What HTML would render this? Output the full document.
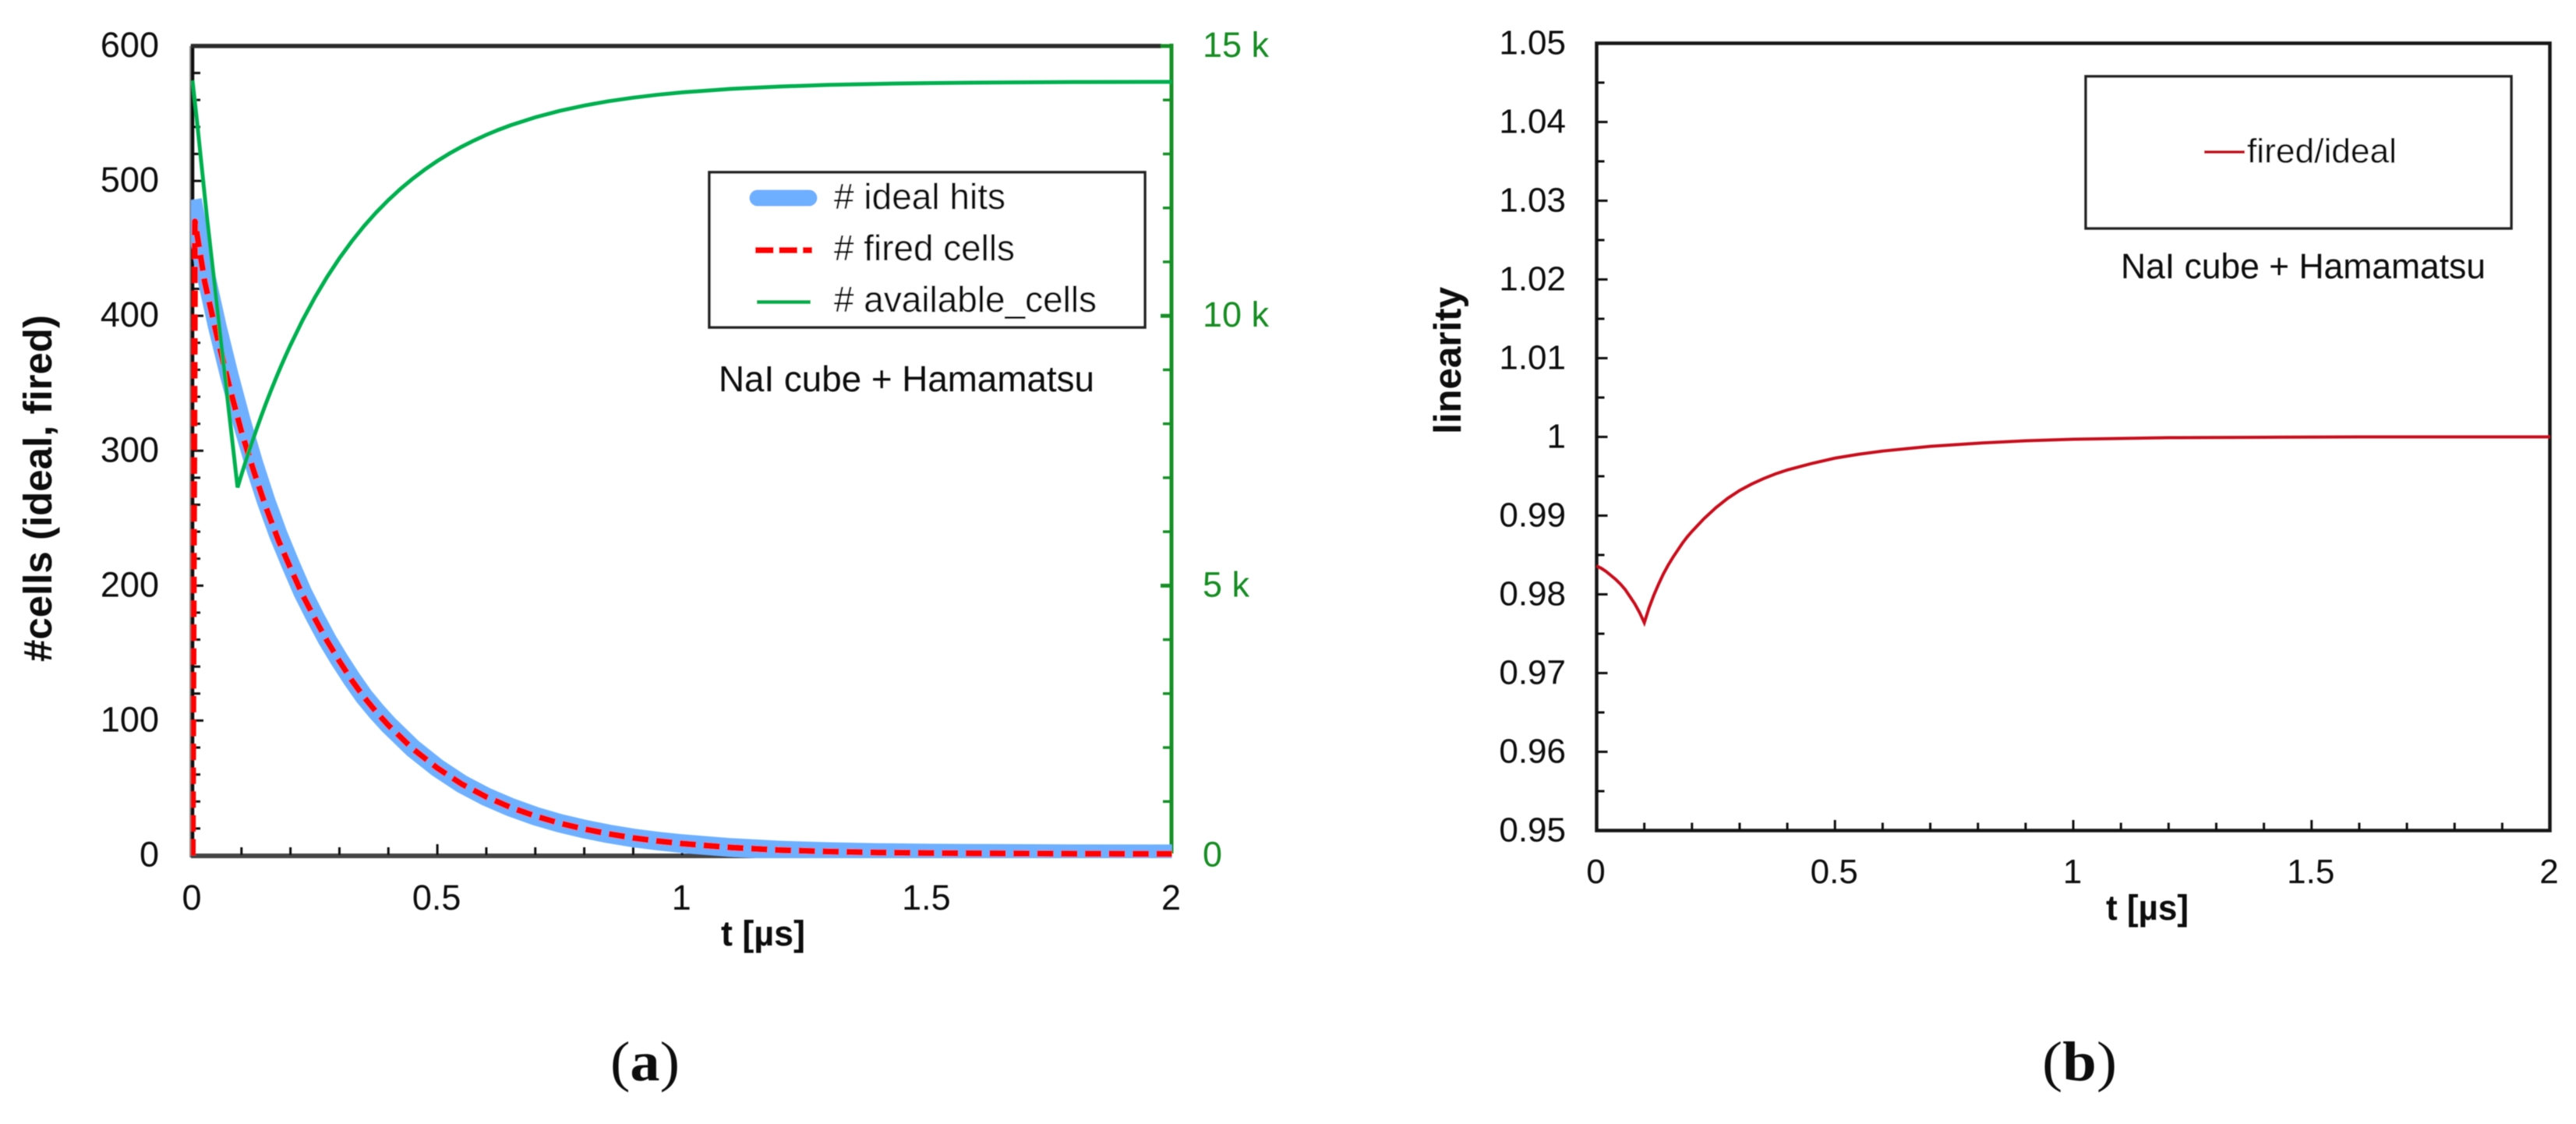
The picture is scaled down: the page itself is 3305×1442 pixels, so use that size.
<!DOCTYPE html>
<html lang="en">
<head>
<meta charset="utf-8">
<title>SiPM cell response and linearity</title>
<style>
html,body{margin:0;padding:0;background:#fff;}
svg{display:block;}
text{font-family:"Liberation Sans",Arial,sans-serif;fill:#0a0a0a;}
.bold{font-weight:700;}
.cap{font-family:"Liberation Serif","Times New Roman",serif;}
</style>
</head>
<body>
<svg id="figure" xmlns="http://www.w3.org/2000/svg" width="3305" height="1442" viewBox="0 0 3305 1442">
  <defs>
    <filter id="soft" x="-2%" y="-2%" width="104%" height="104%"><feGaussianBlur stdDeviation="0.6"/></filter>
    <clipPath id="clipA"><rect x="245" y="0" width="1262" height="1101"/></clipPath>
  </defs>
  <rect width="3305" height="1442" fill="#ffffff"/>
  <g filter="url(#soft)">
    <g id="panelA">
      <g id="axesA"></g>
      <g id="marksA"></g>
      <g>
        <rect x="910" y="221" width="559" height="199" fill="#ffffff" stroke="#222222" stroke-width="3.5"/>
        <line x1="972" y1="254" x2="1038" y2="254" stroke="#6EB0FF" stroke-width="21" stroke-linecap="round"/>
        <line x1="969" y1="321" x2="1042" y2="321" stroke="#FF0000" stroke-width="8" stroke-dasharray="23.5 7"/>
        <line x1="971" y1="387.5" x2="1040" y2="387.5" stroke="#00B050" stroke-width="5"/>
        <text x="1070" y="268" font-size="46" textLength="220" lengthAdjust="spacingAndGlyphs"># ideal hits</text>
        <text x="1070" y="334" font-size="46" textLength="232" lengthAdjust="spacingAndGlyphs"># fired cells</text>
        <text x="1070" y="400" font-size="46" textLength="337" lengthAdjust="spacingAndGlyphs"># available_cells</text>
      </g>
      <text x="922" y="502" font-size="46" textLength="482" lengthAdjust="spacingAndGlyphs">NaI cube + Hamamatsu</text>
      <text class="bold" x="925" y="1213" font-size="45" textLength="108" lengthAdjust="spacingAndGlyphs">t [µs]</text>
      <text class="bold" transform="translate(66,849) rotate(-90)" font-size="51" textLength="445" lengthAdjust="spacingAndGlyphs">#cells (ideal, fired)</text>
      <text class="cap" x="783" y="1386" font-size="72" textLength="89" lengthAdjust="spacingAndGlyphs">(<tspan font-weight="700">a</tspan>)</text>
    </g>
    <g id="panelB">
      <g id="axesB"></g>
      <g id="marksB"></g>
      <g>
        <rect x="2676" y="98" width="546" height="195" fill="#ffffff" stroke="#222222" stroke-width="3.5"/>
        <line x1="2828" y1="195" x2="2880" y2="195" stroke="#C8101A" stroke-width="4"/>
        <text x="2883" y="208.5" font-size="44" textLength="192" lengthAdjust="spacingAndGlyphs">fired/ideal</text>
      </g>
      <text x="2721" y="357" font-size="45" textLength="468" lengthAdjust="spacingAndGlyphs">NaI cube + Hamamatsu</text>
      <text class="bold" x="2702" y="1180" font-size="45" textLength="106" lengthAdjust="spacingAndGlyphs">t [µs]</text>
      <text class="bold" transform="translate(1874,557) rotate(-90)" font-size="49" textLength="189" lengthAdjust="spacingAndGlyphs">linearity</text>
      <text class="cap" x="2620" y="1386" font-size="72" textLength="96" lengthAdjust="spacingAndGlyphs">(<tspan font-weight="700">b</tspan>)</text>
    </g>
  </g>
</svg>
<script>
// ---- Panel (a) data ----
const timeTicks = [0, 0.5, 1, 1.5, 2];
const timeTickLabels = ['0', '0.5', '1', '1.5', '2'];
const cellsTicks = [0, 100, 200, 300, 400, 500, 600];
const cellsTickLabels = ['0', '100', '200', '300', '400', '500', '600'];
const availTicks = [0, 5000, 10000, 15000];
const availTickLabels = ['0', '5 k', '10 k', '15 k'];

const idealT = [0, 0.025, 0.05, 0.075, 0.1, 0.125, 0.15, 0.175, 0.2, 0.225, 0.25, 0.275, 0.3, 0.325, 0.35, 0.375, 0.4, 0.45, 0.5, 0.55, 0.6, 0.65, 0.7, 0.75, 0.8, 0.85, 0.9, 0.95, 1, 1.1, 1.2, 1.3, 1.4, 1.5, 1.6, 1.8, 2];
const idealHits = [486, 434, 393, 356, 322, 291, 263, 238, 216, 195, 177, 160, 145, 131, 118, 107, 97, 79.4, 65, 53, 43.5, 35.7, 29.2, 23.9, 19.6, 16, 13, 10.7, 8.8, 5.9, 4, 2.9, 2.2, 1.8, 1.6, 1.3, 1.2];

const firedT = [0, 0.005, 0.025, 0.05, 0.075, 0.1, 0.125, 0.15, 0.175, 0.2, 0.225, 0.25, 0.275, 0.3, 0.325, 0.35, 0.375, 0.4, 0.45, 0.5, 0.55, 0.6, 0.65, 0.7, 0.75, 0.8, 0.85, 0.9, 0.95, 1, 1.1, 1.2, 1.3, 1.4, 1.5, 1.6, 1.8, 2];
const firedCells = [0, 470, 425, 385, 348, 314, 285, 258, 234, 213, 193, 175.5, 159, 144, 130, 117.5, 106.5, 96.5, 79, 64.8, 52.9, 43.4, 35.6, 29.2, 23.9, 19.6, 16, 13, 10.7, 8.8, 5.9, 4, 2.9, 2.2, 1.8, 1.6, 1.3, 1.2];

const availT = [0, 0.0095, 0.0286, 0.0658, 0.092, 0.1, 0.11, 0.12, 0.13, 0.14, 0.15, 0.16, 0.17, 0.18, 0.19, 0.2, 0.225, 0.25, 0.275, 0.3, 0.325, 0.35, 0.375, 0.4, 0.425, 0.45, 0.475, 0.5, 0.525, 0.55, 0.575, 0.6, 0.625, 0.65, 0.7, 0.75, 0.8, 0.85, 0.9, 0.95, 1, 1.1, 1.2, 1.3, 1.4, 1.5, 1.6, 1.8, 2];
const availCells = [14360, 13580, 11900, 8916, 6820, 7057, 7343, 7617, 7880, 8134, 8377, 8611, 8835, 9051, 9259, 9458, 9923, 10343, 10724, 11067, 11379, 11661, 11916, 12146, 12355, 12544, 12715, 12870, 13010, 13136, 13250, 13354, 13448, 13533, 13679, 13799, 13897, 13978, 14043, 14097, 14141, 14206, 14250, 14280, 14299, 14313, 14322, 14332, 14336];

// ---- Panel (b) data ----
const linTicks = [0.95, 0.96, 0.97, 0.98, 0.99, 1, 1.01, 1.02, 1.03, 1.04, 1.05];
const linTickLabels = ['0.95', '0.96', '0.97', '0.98', '0.99', '1', '1.01', '1.02', '1.03', '1.04', '1.05'];
const linT = [0, 0.01, 0.02, 0.03, 0.04, 0.05, 0.06, 0.07, 0.08, 0.09, 0.1, 0.11, 0.12, 0.13, 0.14, 0.15, 0.16, 0.17, 0.18, 0.19, 0.2, 0.225, 0.25, 0.275, 0.3, 0.325, 0.35, 0.375, 0.4, 0.45, 0.5, 0.55, 0.6, 0.65, 0.7, 0.8, 0.9, 1, 1.2, 1.4, 1.6, 2];
const linearity = [0.9836, 0.9833, 0.9829, 0.9824, 0.9819, 0.9813, 0.9806, 0.9797, 0.9788, 0.9777, 0.9764, 0.9783, 0.9799, 0.9813, 0.9826, 0.9837, 0.9847, 0.9856, 0.9865, 0.9873, 0.988, 0.9896, 0.991, 0.9922, 0.9932, 0.994, 0.9947, 0.9953, 0.9958, 0.9966, 0.9973, 0.9978, 0.9982, 0.9985, 0.9988, 0.9992, 0.9995, 0.9997, 0.9999, 0.99995, 1, 1];

// ---- Axis functions ----
const NS = 'http://www.w3.org/2000/svg';
function xA(t) { return 247 + t * 628.25; }
function yL(v) { return 1097.5 - v * 1.7308; }
function yR(v) { return 1097.5 - v * 0.06923; }
function xB(t) { return 2048.5 + t * 611.5; }
function yB(v) { return 1065.5 - (v - 0.95) * 10100; }

function shape(parent, tag, attrs) {
  const el = document.createElementNS(NS, tag);
  for (const k in attrs) el.setAttribute(k, attrs[k]);
  parent.appendChild(el);
  return el;
}
function pointsOf(ts, vs, fx, fy) {
  return ts.map(function (t, i) { return fx(t).toFixed(2) + ',' + fy(vs[i]).toFixed(2); }).join(' ');
}

const axesA = document.getElementById('axesA');
const marksA = document.getElementById('marksA');
const axesB = document.getElementById('axesB');
const marksB = document.getElementById('marksB');
let el;

// ---- Panel (a) frame ----
el = shape(axesA, 'line', {x1: 244, y1: 59, x2: 244, y2: 1100, stroke: '#999999', 'stroke-width': 2});


el = shape(axesA, 'line', {x1: 247, y1: 57, x2: 247, y2: 1100, stroke: '#0c0c0c', 'stroke-width': 4.5});


el = shape(axesA, 'line', {x1: 245, y1: 59, x2: 1490, y2: 59, stroke: '#2a2a2a', 'stroke-width': 5.5});


el = shape(axesA, 'line', {x1: 245, y1: 1098, x2: 1503, y2: 1098, stroke: '#444444', 'stroke-width': 6});


el = shape(axesA, 'line', {x1: 1503, y1: 56, x2: 1503, y2: 1095, stroke: '#169026', 'stroke-width': 5});



// Panel (a) x ticks
for (let i = 1; i < 20; i++) {
  const t = i / 10;
  const major = i % 5 === 0;
  el = shape(axesA, 'line', {x1: xA(t), y1: 1097, x2: xA(t), y2: major ? 1083 : 1087, stroke: '#111111', 'stroke-width': 3});
  
  
}
timeTicks.forEach(function (t, i) {
  const lab = shape(axesA, 'text', {x: xA(t) - 1, y: 1167, 'font-size': 45, 'text-anchor': 'middle'});
  lab.textContent = timeTickLabels[i];
  
  
});

// Panel (a) left y ticks
for (let i = 1; i < 30; i++) {
  const v = i * 20;
  const major = i % 5 === 0;
  el = shape(axesA, 'line', {x1: 247, y1: yL(v), x2: major ? 261 : 257, y2: yL(v), stroke: '#111111', 'stroke-width': 3});
  
  
}
cellsTicks.forEach(function (v, i) {
  const lab = shape(axesA, 'text', {x: 204, y: yL(v) + 14, 'font-size': 45, 'text-anchor': 'end'});
  lab.textContent = cellsTickLabels[i];
  
  
});

// Panel (a) right y ticks
for (let i = 1; i <= 15; i++) {
  const v = i * 1000;
  const major = i % 5 === 0;
  el = shape(axesA, 'line', {x1: 1503, y1: yR(v), x2: major ? 1489 : 1492, y2: yR(v), stroke: '#169026', 'stroke-width': major ? 5 : 3.5});
  
  
}
availTicks.forEach(function (v, i) {
  const lab = shape(axesA, 'text', {x: 1543, y: yR(v) + 14, 'font-size': 45, style: 'fill:#128c22'});
  lab.textContent = availTickLabels[i];
  
  
});

// Panel (a) series
el = shape(marksA, 'polyline', {points: pointsOf(idealT, idealHits, xA, yL), fill: 'none', stroke: '#6EB0FF', 'stroke-width': 24, 'stroke-linejoin': 'round', 'clip-path': 'url(#clipA)'});


el = shape(marksA, 'polyline', {points: pointsOf(firedT, firedCells, xA, yL), fill: 'none', stroke: '#FF0000', 'stroke-width': 8, 'stroke-dasharray': '21 9.6', 'stroke-linejoin': 'round', 'clip-path': 'url(#clipA)'});


el = shape(marksA, 'polyline', {points: pointsOf(availT, availCells, xA, yR), fill: 'none', stroke: '#00B050', 'stroke-width': 5, 'stroke-linejoin': 'miter', 'clip-path': 'url(#clipA)'});



// ---- Panel (b) frame ----
el = shape(axesB, 'rect', {x: xB(0), y: 55.5, width: xB(2) - xB(0), height: yB(0.95) - 55.5, fill: 'none', stroke: '#161616', 'stroke-width': 4.5});



for (let i = 1; i < 20; i++) {
  const t = i / 10;
  const major = i % 5 === 0;
  el = shape(axesB, 'line', {x1: xB(t), y1: 1065, x2: xB(t), y2: major ? 1052 : 1055.5, stroke: '#111111', 'stroke-width': 3});
  
  
}
timeTicks.forEach(function (t, i) {
  const lab = shape(axesB, 'text', {x: xB(t) - 1, y: 1133, 'font-size': 44, 'text-anchor': 'middle'});
  lab.textContent = timeTickLabels[i];
  
  
});
for (let i = 1; i < 20; i++) {
  const v = 0.95 + i * 0.005;
  const major = i % 2 === 0;
  el = shape(axesB, 'line', {x1: xB(0), y1: yB(v), x2: xB(0) + (major ? 14 : 10), y2: yB(v), stroke: '#111111', 'stroke-width': 3});
  
  
}
linTicks.forEach(function (v, i) {
  const lab = shape(axesB, 'text', {x: 2009, y: yB(v) + 14, 'font-size': 44, 'text-anchor': 'end'});
  lab.textContent = linTickLabels[i];
  
  
});

// Panel (b) series
el = shape(marksB, 'polyline', {points: pointsOf(linT, linearity, xB, yB), fill: 'none', stroke: '#C8101A', 'stroke-width': 4, 'stroke-linejoin': 'miter'});


</script>
</body>
</html>
